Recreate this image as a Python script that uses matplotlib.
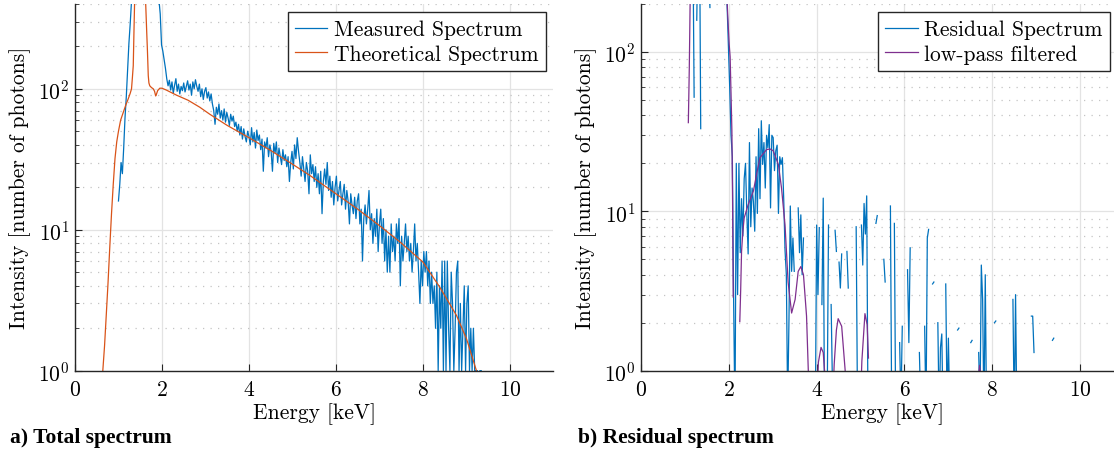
import numpy as np
import matplotlib.pyplot as plt

plt.rcParams['font.family'] = 'cmr10'
plt.rcParams['mathtext.fontset'] = 'cm'
plt.rcParams['axes.formatter.use_mathtext'] = True

n = np.nan

# channel energies [keV], 0.03 keV bins from 1.00 to 9.58
energy = 1.0 + 0.03 * np.arange(287)

measured = [
    16, 21, 30, 25, 38, 62, 88, 135, 210, 290,
    420, 620, 900, 1300, 1700, 2000, 2200, 2300, 2400, 2400,
    2500, 2400, 2300, 2100, 1900, 1700, 1400, 1200, 1000, 800,
    600, 430, 340, 205, 185, 160, 140, 118, 105, 115,
    98, 112, 93, 106, 118, 96, 108, 92, 104, 97,
    110, 95, 104, 114, 98, 108, 90, 112, 100, 116,
    104, 96, 108, 88, 100, 84, 96, 102, 86, 95,
    82, 92, 78, 70, 56, 74, 66, 78, 62, 70,
    60, 72, 58, 68, 62, 55, 66, 59, 64, 54,
    58, 50, 56, 47, 54, 44, 52, 46, 42, 50,
    46, 40, 53, 42, 49, 38, 51, 43, 47, 37,
    44, 26, 42, 38, 45, 33, 40, 36, 26, 41,
    35, 42, 30, 38, 33, 29, 37, 31, 34, 28,
    33, 22, 30, 36, 27, 40, 32, 45, 36, 30,
    24, 33, 27, 22, 30, 26, 18, 34, 25, 29,
    22, 28, 20, 25, 18, 26, 13, 22, 27, 21,
    30, 19, 24, 17, 22, 15, 20, 24, 16, 19,
    22, 15, 18, 21, 14, 19, 16, 11, 18, 15,
    13, 17, 12, 16, 18, 11, 14, 6, 12, 15,
    11, 14, 19, 10, 13, 8, 12, 9, 14, 7,
    11, 14, 8, 12, 6, 10, 5, 9, 5, 11,
    7, 9, 6, 11, 8, 12, 4, 9, 6, 8,
    11, 7, 9, 6, 8, 5, 7, 11, 6, 8,
    5, 3, 6, 4, 7, 5, 7, 4, 6, 3,
    5, 3, 4, 2, 5, 1, 4, 2, 6, 1,
    6, 1, 6, 2, 1, 5, 3, 1, 2, 5,
    6, 1, 3, 1, 2, 4, 1, 3, 4, 1,
    2, 1, 2, 1, 1, 1, 0, 1, 1, 0,
    0, 0, 0, 2, 0, 0, 0,
]

residual = [
    n, n, n, n, n, n, 600, 52, n, 158,
    600, 900, 33, n, n, n, n, n, 400, 190,
    n, n, n, n, n, n, n, n, n, n,
    700, 350, 200, 110, 60, 30, 22, 2.7, 0.5, 20,
    3.0, 20, 5.5, 12, 7, 16, 20, 9.7, 5.4, 27,
    8, 14, 11.5, 7.5, 22, 9.7, 33, 12, 37, 19.7,
    27, 14, 30, 25, 35, 10.5, 30, 29, 18, 24,
    26, 9.7, 22, 19.7, 21.7, 12, 5.7, 4, 0.6, 2.1,
    10.8, 4.2, 6.8, 4.2, n, n, 10.5, 5.5, 9.5, 4.0,
    6.8, n, n, n, n, n, n, n, n, 0.5,
    8.2, 3.0, 7.9, n, 2.6, 12.1, 0.5, n, 0.6, 8.2,
    n, 2.6, 0.8, n, 7.6, 5.6, n, 4.8, 3.3, 5.4,
    n, n, n, 5.6, 3.3, n, n, n, n, n,
    8.0, 0.6, n, n, 8.2, 4.6, 11.2, 7.2, 12.5, 0.5,
    n, n, n, n, n, 8.4, 9.4, n, n, n,
    n, 5.0, 3.6, n, n, n, 10.8, 0.5, n, 8.4,
    0.5, n, n, 1.5, 0.6, 1.9, n, n, n, 4.3,
    1.5, 5.9, n, n, n, n, n, n, 1.3, 0.6,
    n, n, 1.9, 0.5, 6.8, 7.7, n, n, 3.5, 3.6,
    n, n, 2.0, 0.5, 1.4, 1.7, 0.5, n, 3.5, 0.6,
    1.6, 0.6, n, n, n, n, n, 1.8, 1.85, n,
    n, n, n, n, n, n, n, 1.5, 1.55, n,
    n, n, n, 1.3, 0.6, 4.6, 2.8, 0.5, 4.0, 0.5,
    n, n, n, n, n, 2.0, 2.05, n, n, n,
    n, n, n, n, n, n, n, n, n, 2.8,
    0.5, 3.0, 0.5, n, n, n, n, n, n, n,
    n, n, n, 2.2, 2.2, 1.3, n, n, n, n,
    n, n, n, n, n, n, n, n, n, 1.55,
    1.6, n, n, n, n, n, n,
]

theo_energy = [0.64, 0.68, 0.72, 0.76, 0.80, 0.84, 0.88, 0.92, 0.96, 1.00,
               1.05, 1.11, 1.17, 1.225, 1.27, 1.30, 1.32, 1.34, 1.356, 1.37,
               1.40, 1.45, 1.49, 1.53, 1.58, 1.62, 1.65, 1.665, 1.685, 1.70,
               1.72, 1.76, 1.80, 1.83, 1.855, 1.87, 1.90, 1.95, 2.00, 2.10,
               2.34, 2.60, 2.87, 3.10, 3.50, 4.00, 4.50, 4.94, 5.40, 6.00,
               6.50, 7.00, 7.47, 8.00, 8.39, 8.77, 9.00, 9.23, 9.30]
theo_counts = [1.0, 1.5, 2.5, 4.2, 7.5, 13, 21, 32, 42, 50,
               60, 68, 77, 85, 93, 100, 120, 146, 253, 400,
               800, 1600, 2500, 1600, 800, 450, 250, 190, 124, 110,
               105, 102, 100, 96, 89, 91, 97, 101, 101, 98,
               90, 83, 74, 66, 55, 45, 36.5, 30, 24.3, 18,
               14, 10.7, 8.2, 5.9, 3.9, 2.47, 1.69, 1.0, 0.8]

lp_energy = [1.078, 1.09, 1.10, 1.11, 1.12, 1.14, 1.30, 1.50, 1.70, 1.85,
             1.92, 1.96, 1.99, 2.01, 2.03, 2.05, 2.07, 2.085, 2.10, 2.11,
             2.24, 2.25, 2.27, 2.29, 2.32, 2.35, 2.44, 2.56, 2.64, 2.71,
             2.86, 2.94, 3.01, 3.09, 3.13, 3.20, 3.28, 3.35, 3.43, 3.51,
             3.58, 3.64, 3.70, 3.77, 3.81, 3.82, 3.90, 4.03, 4.04, 4.10,
             4.15, 4.18, 4.19, 4.30, 4.39, 4.40, 4.45, 4.49, 4.57, 4.65,
             4.66, 4.90, 5.02, 5.03, 5.10, 5.15, 5.18, 5.19, 7.60, 7.68,
             7.71, 7.74]
lp_counts = [36, 55, 80, 130, 220, 450, 1500, 2500, 2000, 900,
             400, 210, 140, 110, 93, 55, 32, 12, 2.9, n,
             n, 2.03, 3.2, 5.6, 7.5, 9.1, 11, 13.4, 17.5, 21.7,
             24.4, 24.6, 24, 21, 19.6, 14, 8.2, 3.6, 2.3, 2.8,
             4.2, 4.5, 4.0, 2.2, 1.0, 0.8, n, 0.95, 1.13, 1.40,
             1.3, 1.0, 0.9, n, 0.95, 1.1, 1.8, 2.12, 1.9, 1.0,
             0.9, n, 0.95, 1.15, 2.28, 1.95, 1.2, n, n, 0.9,
             1.08, 0.9]

blue = '#0072BD'
orange = '#D95319'
purple = '#7E2F8E'

meas = np.array(measured, dtype=float)
meas[meas <= 0] = np.nan

fig = plt.figure(figsize=(11.14, 4.52), dpi=100)
ax1 = fig.add_axes([0.0673, 0.1777, 0.4295, 0.8113])
ax2 = fig.add_axes([0.5754, 0.1777, 0.4336, 0.8113])


def style(ax, ytop):
    ax.set_yscale('log')
    ax.set_xlim(0, 11)
    ax.set_ylim(1, ytop)
    ax.set_xticks(range(0, 11, 2))
    ax.spines[['top', 'right']].set_visible(False)
    for s in ['left', 'bottom']:
        ax.spines[s].set_color('#262626')
        ax.spines[s].set_linewidth(1.0)
    ax.tick_params(which='both', direction='in', color='#262626', labelsize=15.5)
    ax.tick_params(which='major', length=5)
    ax.tick_params(which='minor', length=3)
    ax.tick_params(axis='x', which='minor', bottom=False)
    ax.tick_params(axis='x', pad=6)
    ax.tick_params(axis='y', pad=4)
    ax.grid(which='major', color='#e3e3e3', lw=0.9)
    ax.grid(which='minor', axis='y', color='#c4c4c4', ls=(0, (1, 5)), lw=0.9)
    ax.set_axisbelow(True)
    ax.set_xlabel('Energy [keV]', fontsize=15.5, labelpad=3)
    ax.set_ylabel('Intensity [number of photons]', fontsize=15.5, labelpad=5)


legend_kw = dict(loc='upper right', bbox_transform=fig.transFigure, borderaxespad=0,
                 fontsize=15.5, fancybox=False, framealpha=1, edgecolor='#262626',
                 handlelength=1.5, handletextpad=0.3, labelspacing=0.25, borderpad=0.35)

style(ax1, 400)
ax1.plot(energy, meas, color=blue, lw=0.9, label='Measured Spectrum')
ax1.plot(theo_energy, theo_counts, color=orange, lw=0.9, label='Theoretical Spectrum')
ax1.legend(bbox_to_anchor=(546 / 1114, 1 - 13 / 452), **legend_kw)

style(ax2, 200)
ax2.plot(energy, residual, color=blue, lw=0.9, label='Residual Spectrum')
ax2.plot(lp_energy, lp_counts, color=purple, lw=0.9, label='low-pass filtered')
ax2.legend(bbox_to_anchor=(1110 / 1114, 1 - 13 / 452), **legend_kw)

fig.text(10.5 / 1114, 1 - 438 / 452, 'a) Total spectrum', family='Liberation Serif',
         weight='bold', fontsize=15.5, va='center')
fig.text(578 / 1114, 1 - 438 / 452, 'b) Residual spectrum', family='Liberation Serif',
         weight='bold', fontsize=15.5, va='center')

fig.savefig('out.png', dpi=100)
